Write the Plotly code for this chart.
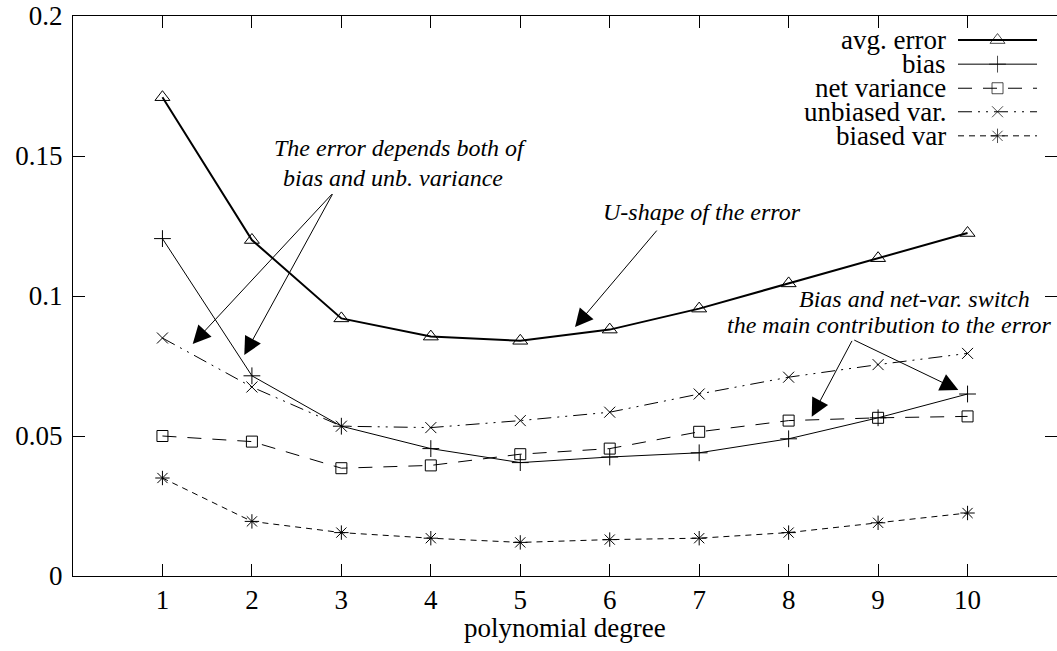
import plotly.graph_objects as go

degree = [1, 2, 3, 4, 5, 6, 7, 8, 9, 10]
avg_error = [0.171, 0.120, 0.092, 0.0855, 0.084, 0.088, 0.0955, 0.1045, 0.1135, 0.1225]
bias = [0.1205, 0.0715, 0.0535, 0.0455, 0.0405, 0.0425, 0.044, 0.049, 0.0565, 0.065]
net_variance = [0.050, 0.048, 0.0385, 0.0395, 0.0435, 0.0455, 0.0515, 0.0555, 0.0565, 0.057]
unbiased_var = [0.085, 0.0675, 0.0535, 0.053, 0.0555, 0.0585, 0.065, 0.071, 0.0755, 0.0795]
biased_var = [0.035, 0.0195, 0.0155, 0.0135, 0.012, 0.013, 0.0135, 0.0155, 0.019, 0.0225]

y_ticks = [0, 0.05, 0.1, 0.15, 0.2]
y_tick_labels = ["0", "0.05", "0.1", "0.15", "0.2"]
x_ticks = degree
x_label = "polynomial degree"

FONT = "Liberation Serif"
TICK_SIZE = 27

series = [
    ("avg. error", avg_error, dict(width=2, dash="solid"), "triangle-up-open", 13),
    ("bias", bias, dict(width=1, dash="solid"), "cross-thin-open", 12),
    ("net variance", net_variance, dict(width=1, dash="14px,11px"), "square-open", 11),
    ("unbiased var.", unbiased_var, dict(width=1, dash="14px,6px,2px,6px,2px,6px"), "x-thin-open", 11),
    ("biased var", biased_var, dict(width=1, dash="6px,5px"), "asterisk-open", 12),
]

fig = go.Figure()
for name, vals, line, sym, size in series:
    fig.add_trace(go.Scatter(
        x=degree, y=vals, mode="lines+markers", name=name, showlegend=False,
        line=dict(color="black", **line),
        marker=dict(symbol=sym, size=size, color="black", line=dict(color="black", width=1)),
    ))

# invisible trace for the right-side tick axis
fig.add_trace(go.Scatter(x=[0], y=[0], yaxis="y2", mode="markers",
                         marker=dict(opacity=0), showlegend=False, hoverinfo="skip"))

# manual gnuplot-style key (text left, sample right) on a hidden overlay axis
key_x0, key_x1 = 0.8994, 0.9797
key_rows = [0.957, 0.914, 0.871, 0.829, 0.786]
annotations = []
for (name, vals, line, sym, size), ry in zip(series, key_rows):
    xm = (key_x0 + key_x1) / 2
    fig.add_trace(go.Scatter(
        x=[key_x0, xm, key_x1], y=[ry, ry, ry], xaxis="x3", yaxis="y3",
        mode="lines+markers", showlegend=False, hoverinfo="skip",
        line=dict(color="black", **line),
        marker=dict(symbol=sym, size=[0, size, 0], color="black", line=dict(color="black", width=1)),
    ))
    annotations.append(dict(xref="paper", yref="paper", x=0.8892, y=ry, text=name,
                            showarrow=False, xanchor="right", yanchor="middle",
                            font=dict(family=FONT, size=TICK_SIZE, color="black")))

# text labels
labels = [
    ("The error depends both of", 3.656, 0.1529),
    ("bias and unb. variance", 3.577, 0.1421),
    ("U-shape of the error", 7.032, 0.1300),
    ("Bias and net-var. switch", 9.402, 0.0989),
    ("the main contribution to the error", 9.122, 0.0896),
]
for t, x, y in labels:
    annotations.append(dict(xref="x", yref="y", x=x, y=y, text="<i>" + t + "</i>",
                            showarrow=False, xanchor="center", yanchor="middle",
                            font=dict(family=FONT, size=24, color="black")))

# arrows: (tail_x, tail_y, tip_x, tip_y)
arrows = [
    (2.910, 0.1369, 1.338, 0.0829),
    (2.910, 0.1369, 1.915, 0.0789),
    (6.540, 0.1239, 5.612, 0.0889),
    (8.717, 0.0845, 8.258, 0.0569),
    (8.717, 0.0845, 9.897, 0.0664),
]
for tx, ty, hx, hy in arrows:
    annotations.append(dict(xref="x", yref="y", axref="x", ayref="y",
                            x=hx, y=hy, ax=tx, ay=ty, text="", showarrow=True,
                            arrowhead=2, arrowsize=3.6, arrowwidth=1, arrowcolor="black",
                            standoff=0, startstandoff=0))

annotations.append(dict(xref="paper", yref="paper", x=0.5, y=-0.093, text=x_label,
                        showarrow=False, xanchor="center", yanchor="middle",
                        font=dict(family=FONT, size=TICK_SIZE, color="black")))

axis_common = dict(showgrid=False, zeroline=False, ticks="inside", ticklen=12,
                   tickcolor="black", tickwidth=1,
                   tickfont=dict(family=FONT, size=TICK_SIZE, color="black"))

fig.update_layout(
    width=1057, height=651,
    margin=dict(l=73, r=0, t=16, b=75),
    paper_bgcolor="white", plot_bgcolor="white",
    showlegend=False,
    xaxis=dict(range=[0, 11], tickvals=x_ticks, showline=True, mirror="ticks",
               linecolor="black", linewidth=1, ticklabelstandoff=0, **axis_common),
    yaxis=dict(range=[0, 0.2], tickvals=y_ticks, ticktext=y_tick_labels, showline=True,
               mirror=False, linecolor="black", linewidth=1, ticklabelstandoff=4, **axis_common),
    yaxis2=dict(range=[0, 0.2], tickvals=y_ticks, overlaying="y", side="right",
                showline=False, showticklabels=False, showgrid=False, zeroline=False,
                ticks="inside", ticklen=12, tickcolor="black", tickwidth=1),
    xaxis3=dict(range=[0, 1], overlaying="x", visible=False),
    yaxis3=dict(range=[0, 1], overlaying="y", visible=False),
    annotations=annotations,
)

fig.write_html("out.html")
